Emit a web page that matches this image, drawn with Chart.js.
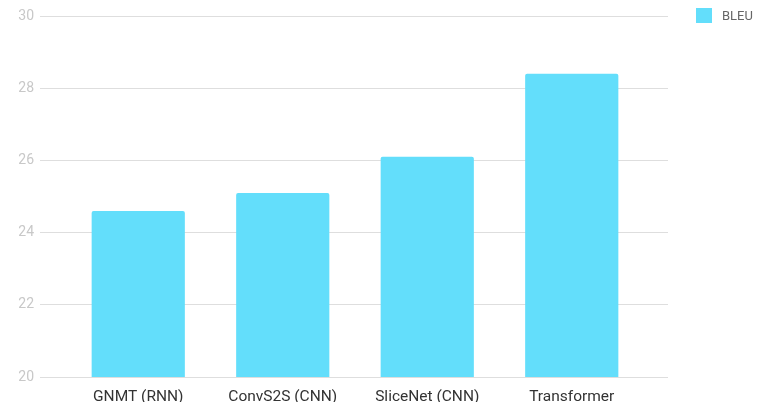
<!DOCTYPE html>
<html>
<head>
<meta charset="utf-8">
<script src="https://cdn.jsdelivr.net/npm/chart.js@4/dist/chart.umd.min.js"></script>
<style>
  html, body { margin: 0; padding: 0; background: #fff; overflow: hidden; }
  .chart-wrap { position: relative; width: 759px; height: 420px; }
  .legend { position: absolute; left: 696px; top: 8px; margin: 0; padding: 0; list-style: none;
            font-family: Roboto, sans-serif; font-size: 13px; color: #666; }
  .legend__item { display: flex; align-items: center; height: 15px; }
  .legend__marker { width: 16px; height: 15px; margin-right: 10px; }
</style>
</head>
<body>
<div class="chart-wrap">
  <canvas id="myChart"></canvas>
  <ul class="legend" id="myChart-legend"></ul>
</div>
<script>
const models = ['GNMT (RNN)', 'ConvS2S (CNN)', 'SliceNet (CNN)', 'Transformer'];
const bleuScores = [24.6, 25.1, 26.1, 28.4];
const seriesName = 'BLEU';
const yTicks = [20, 22, 24, 26, 28, 30];

const barColor = '#63DEFB';
const gridColor = '#dedede';

const ctx = document.getElementById('myChart').getContext('2d');

const myChart = new Chart(ctx, {
  type: 'bar',
  data: {
    labels: models,
    datasets: [{
      label: seriesName,
      data: bleuScores,
      backgroundColor: barColor,
      borderRadius: 2,
      borderSkipped: 'bottom',
      categoryPercentage: 1,
      barPercentage: 0.645,
    }]
  },
  options: {
    responsive: true,
    maintainAspectRatio: false,
    animation: false,
    layout: { padding: { top: 16, right: 91, bottom: 0, left: 0 } },
    plugins: {
      legend: { display: false },
      tooltip: { enabled: false },
    },
    scales: {
      x: {
        grid: { display: false, drawTicks: false },
        border: { display: false },
        ticks: {
          color: '#333',
          padding: 11,
          font: { family: 'Roboto', size: 15.5 },
          maxRotation: 0,
        },
        afterFit: scale => { scale.height = 43; },
      },
      y: {
        min: yTicks[0],
        max: yTicks[yTicks.length - 1],
        grid: { color: gridColor, tickLength: 26, lineWidth: 1 },
        border: { display: false },
        ticks: {
          stepSize: yTicks[1] - yTicks[0],
          color: '#c8c8c8',
          padding: 6,
          font: { family: 'Roboto', size: 14 },
        },
        afterFit: scale => { scale.width = 66; },
      },
      y2: {
        position: 'right',
        min: yTicks[0],
        max: yTicks[yTicks.length - 1],
        grid: { color: gridColor, tickLength: 24, drawOnChartArea: false },
        border: { display: false },
        ticks: { display: false, stepSize: yTicks[1] - yTicks[0] },
        afterFit: scale => { scale.width = 24; },
      },
    }
  }
});

// html legend, like the page it came from
const legendHtml = myChart.data.datasets.map(ds =>
  `<li class="legend__item"><div class="legend__marker" style="background-color:${ds.backgroundColor}"></div><span>${ds.label}</span></li>`
).join('');
document.getElementById('myChart-legend').innerHTML = legendHtml;
</script>
</body>
</html>
